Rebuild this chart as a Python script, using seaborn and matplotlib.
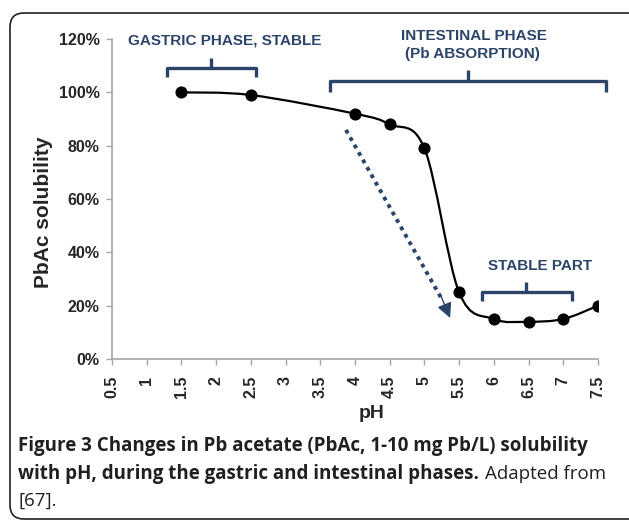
import numpy as np
import matplotlib
matplotlib.use("Agg")
import matplotlib.pyplot as plt
import seaborn as sns
from matplotlib.path import Path
from matplotlib.patches import PathPatch, FancyBboxPatch

# data
ph = [1.5, 2.5, 4.0, 4.5, 5.0, 5.5, 6.0, 6.5, 7.0, 7.5]
solubility = [100, 99, 92, 88, 79, 25, 15, 14, 15, 20]
x_ticks = [0.5, 1, 1.5, 2, 2.5, 3, 3.5, 4, 4.5, 5, 5.5, 6, 6.5, 7, 7.5]
x_tick_labels = ["0.5", "1", "1.5", "2", "2.5", "3", "3.5", "4", "4.5", "5",
                 "5.5", "6", "6.5", "7", "7.5"]
y_ticks = [0, 20, 40, 60, 80, 100, 120]
y_tick_labels = ["0%", "20%", "40%", "60%", "80%", "100%", "120%"]

navy = "#2B4468"
grey = "#A6A6A6"

sns.set_style("ticks")
plt.rcParams["font.family"] = ["Liberation Sans", "DejaVu Sans"]

fig = plt.figure(figsize=(6.29, 5.21), dpi=100)
ax = fig.add_axes([0.178, 0.3109, 0.7727, 0.6142])

# smoothed line (Excel style bezier through the points)
pts = np.column_stack([ph, solubility]).astype(float)
ext = np.vstack([pts[0], pts, pts[-1]])
verts = [tuple(pts[0])]
codes = [Path.MOVETO]
for i in range(len(pts) - 1):
    p0, p1, p2, p3 = ext[i], ext[i + 1], ext[i + 2], ext[i + 3]
    c1 = p1 + (p2 - p0) / 6
    c2 = p2 - (p3 - p1) / 6
    verts += [tuple(c1), tuple(c2), tuple(p2)]
    codes += [Path.CURVE4] * 3
ax.add_patch(PathPatch(Path(verts, codes), fill=False, color="black", lw=1.6, zorder=3))

sns.scatterplot(x=ph, y=solubility, ax=ax, color="black", s=65,
                edgecolor="black", zorder=4, legend=False)

ax.set_xlim(0.5, 7.5)
ax.set_ylim(0, 120)
ax.set_xticks(x_ticks)
ax.set_xticklabels(x_tick_labels, rotation=90, fontweight="bold", fontsize=11.5)
ax.set_yticks(y_ticks)
ax.set_yticklabels(y_tick_labels, fontweight="bold", fontsize=11.5)
ax.tick_params(axis="both", length=4, width=1, color=grey, pad=5)
ax.tick_params(axis="x", pad=8)
sns.despine(ax=ax)
for s in ["left", "bottom"]:
    ax.spines[s].set_color(grey)
    ax.spines[s].set_linewidth(1.2)
ax.set_xlabel("")
ax.set_ylabel("")

fig.text(44 / 629, 1 - 212 / 521, "PbAc solubility", rotation=90, ha="center",
         va="center", fontsize=15, fontweight="bold")
fig.text(372 / 629, 1 - 413 / 521, "pH", ha="center", va="center",
         fontsize=14, fontweight="bold")

# phase brackets
def bracket(x0, x1, xc, y_bar, y_end, y_top):
    ax.plot([x0, x0, x1, x1], [y_end, y_bar, y_bar, y_end], color=navy, lw=2.4,
            solid_joinstyle="round", solid_capstyle="butt", clip_on=False)
    ax.plot([xc, xc], [y_bar, y_top], color=navy, lw=2.4, clip_on=False,
            solid_capstyle="butt")

bracket(1.29, 2.57, 1.93, 109, 105.6, 113)
bracket(3.64, 7.62, 5.63, 104.2, 100.2, 108.4)
bracket(5.83, 7.12, 6.47, 25.2, 21.9, 29)

kw = dict(color=navy, fontweight="bold", fontsize=11, ha="center", va="center")
ax.text(2.13, 119.6, "GASTRIC PHASE, STABLE", **kw)
ax.text(5.72, 121.3, "INTESTINAL PHASE", **kw)
ax.text(5.69, 114.2, "(Pb ABSORPTION)", **kw)
ax.text(6.67, 34.9, "STABLE PART", **kw)

# dotted arrow
ax.plot([3.87, 5.25], [85.9, 22.5], color=navy, lw=2.8, linestyle=(0, (1, 1.2)))
ax.annotate("", xy=(5.37, 15.4), xytext=(5.24, 23.5),
            arrowprops=dict(arrowstyle="-|>,head_length=0.9,head_width=0.45",
                            color=navy, lw=1.0, shrinkA=0, shrinkB=0))

# frame around figure + caption
frame = FancyBboxPatch((0.10, 0.02), 6.4, 5.06, boxstyle="round,pad=0,rounding_size=0.14",
                       transform=fig.dpi_scale_trans, fill=False, ec="#222222", lw=1.2)
fig.patches.append(frame)

cap = dict(family=["Open Sans", "DejaVu Sans"], fontsize=13.5, color="#231F20", va="baseline")
fig.text(18 / 629, 1 - 451 / 521,
         "Figure 3 Changes in Pb acetate (PbAc, 1-10 mg Pb/L) solubility",
         fontweight="bold", **cap)
bold2 = fig.text(18 / 629, 1 - 479 / 521,
                 "with pH, during the gastric and intestinal phases.", fontweight="bold", **cap)
fig.canvas.draw()
bb = bold2.get_window_extent()
fig.text((bb.x1 + 6) / 629, 1 - 479 / 521, "Adapted from", **cap)
fig.text(18 / 629, 1 - 506 / 521, "[67].", **cap)

fig.savefig("out.png", dpi=100)
